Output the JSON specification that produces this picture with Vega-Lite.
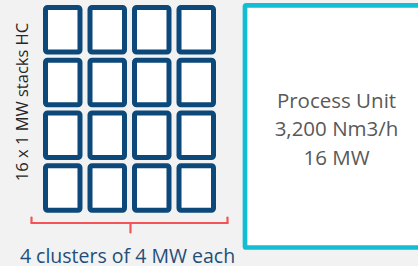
{
  "$schema": "https://vega.github.io/schema/vega-lite/v6.json",
  "width": 418,
  "height": 266,
  "autosize": {"type": "none"},
  "padding": 0,
  "background": "#f2f2f2",
  "config": {"view": {"stroke": null}, "font": "Open Sans"},
  "datasets": {
    "stacks": [
      {"cluster": 1, "stack": 1}, {"cluster": 2, "stack": 1}, {"cluster": 3, "stack": 1}, {"cluster": 4, "stack": 1},
      {"cluster": 1, "stack": 2}, {"cluster": 2, "stack": 2}, {"cluster": 3, "stack": 2}, {"cluster": 4, "stack": 2},
      {"cluster": 1, "stack": 3}, {"cluster": 2, "stack": 3}, {"cluster": 3, "stack": 3}, {"cluster": 4, "stack": 3},
      {"cluster": 1, "stack": 4}, {"cluster": 2, "stack": 4}, {"cluster": 3, "stack": 4}, {"cluster": 4, "stack": 4}
    ],
    "unit": [{"label": "Process Unit\n3,200 Nm3/h\n16 MW"}],
    "side": [{"label": "16 x 1 MW stacks HC"}],
    "bottom": [{"label": "4 clusters of 4 MW each"}]
  },
  "layer": [
    {
      "data": {"name": "stacks"},
      "mark": {"type": "rect", "fill": "white", "stroke": "#0c4879", "strokeWidth": 5, "cornerRadius": 2},
      "encoding": {
        "x": {"field": "cluster", "type": "ordinal", "axis": null, "scale": {"range": [45.5, 213.5], "paddingInner": 0.225, "paddingOuter": 0}},
        "y": {"field": "stack", "type": "ordinal", "axis": null, "scale": {"range": [7.5, 210.3], "paddingInner": 0.156, "paddingOuter": 0}}
      }
    },
    {
      "data": {"name": "unit"},
      "mark": {"type": "rect", "fill": "white", "stroke": "#13bdd4", "strokeWidth": 4.7, "cornerRadius": 1},
      "encoding": {
        "x": {"datum": 245, "type": "quantitative", "axis": null, "scale": {"domain": [0, 418], "nice": false, "zero": false}},
        "x2": {"datum": 440},
        "y": {"datum": 5.3, "type": "quantitative", "axis": null, "scale": {"domain": [0, 266], "nice": false, "zero": false, "reverse": true}},
        "y2": {"datum": 247.5}
      }
    },
    {
      "data": {"name": "unit"},
      "mark": {"type": "text", "align": "center", "baseline": "alphabetic", "fontSize": 20.5, "lineBreak": "\n", "lineHeight": 28.7, "color": "#595959"},
      "encoding": {
        "x": {"datum": 336.5, "type": "quantitative", "axis": null, "scale": {"domain": [0, 418], "nice": false, "zero": false}},
        "y": {"datum": 107.5, "type": "quantitative", "axis": null, "scale": {"domain": [0, 266], "nice": false, "zero": false, "reverse": true}},
        "text": {"field": "label"}
      }
    },
    {
      "data": {"name": "side"},
      "mark": {"type": "text", "align": "center", "baseline": "alphabetic", "angle": 270, "fontSize": 16.5, "color": "#262626"},
      "encoding": {
        "x": {"datum": 27.5, "type": "quantitative", "axis": null, "scale": {"domain": [0, 418], "nice": false, "zero": false}},
        "y": {"datum": 102, "type": "quantitative", "axis": null, "scale": {"domain": [0, 266], "nice": false, "zero": false, "reverse": true}},
        "text": {"field": "label"}
      }
    },
    {
      "data": {"name": "bottom"},
      "mark": {"type": "text", "align": "center", "baseline": "alphabetic", "fontSize": 19.5, "color": "#1f4e79"},
      "encoding": {
        "x": {"datum": 127.5, "type": "quantitative", "axis": null, "scale": {"domain": [0, 418], "nice": false, "zero": false}},
        "y": {"datum": 263, "type": "quantitative", "axis": null, "scale": {"domain": [0, 266], "nice": false, "zero": false, "reverse": true}},
        "text": {"field": "label"}
      }
    },
    {
      "data": {"name": "bottom"},
      "mark": {"type": "rule", "color": "#f45458", "strokeWidth": 2.2, "strokeCap": "round"},
      "encoding": {
        "x": {"datum": 31.5, "type": "quantitative", "axis": null, "scale": {"domain": [0, 418], "nice": false, "zero": false}},
        "x2": {"datum": 227.5},
        "y": {"datum": 223, "type": "quantitative", "axis": null, "scale": {"domain": [0, 266], "nice": false, "zero": false, "reverse": true}}
      }
    },
    {
      "data": {"name": "bottom"},
      "mark": {"type": "rule", "color": "#f45458", "strokeWidth": 2.2, "strokeCap": "round"},
      "encoding": {
        "x": {"datum": 31.5, "type": "quantitative", "axis": null, "scale": {"domain": [0, 418], "nice": false, "zero": false}},
        "y": {"datum": 217.5, "type": "quantitative", "axis": null, "scale": {"domain": [0, 266], "nice": false, "zero": false, "reverse": true}},
        "y2": {"datum": 223}
      }
    },
    {
      "data": {"name": "bottom"},
      "mark": {"type": "rule", "color": "#f45458", "strokeWidth": 2.2, "strokeCap": "round"},
      "encoding": {
        "x": {"datum": 227.5, "type": "quantitative", "axis": null, "scale": {"domain": [0, 418], "nice": false, "zero": false}},
        "y": {"datum": 217.5, "type": "quantitative", "axis": null, "scale": {"domain": [0, 266], "nice": false, "zero": false, "reverse": true}},
        "y2": {"datum": 223}
      }
    },
    {
      "data": {"name": "bottom"},
      "mark": {"type": "rule", "color": "#f45458", "strokeWidth": 2.2, "strokeCap": "round"},
      "encoding": {
        "x": {"datum": 130.5, "type": "quantitative", "axis": null, "scale": {"domain": [0, 418], "nice": false, "zero": false}},
        "y": {"datum": 223, "type": "quantitative", "axis": null, "scale": {"domain": [0, 266], "nice": false, "zero": false, "reverse": true}},
        "y2": {"datum": 232.5}
      }
    }
  ],
  "resolve": {"scale": {"x": "independent", "y": "independent"}}
}
